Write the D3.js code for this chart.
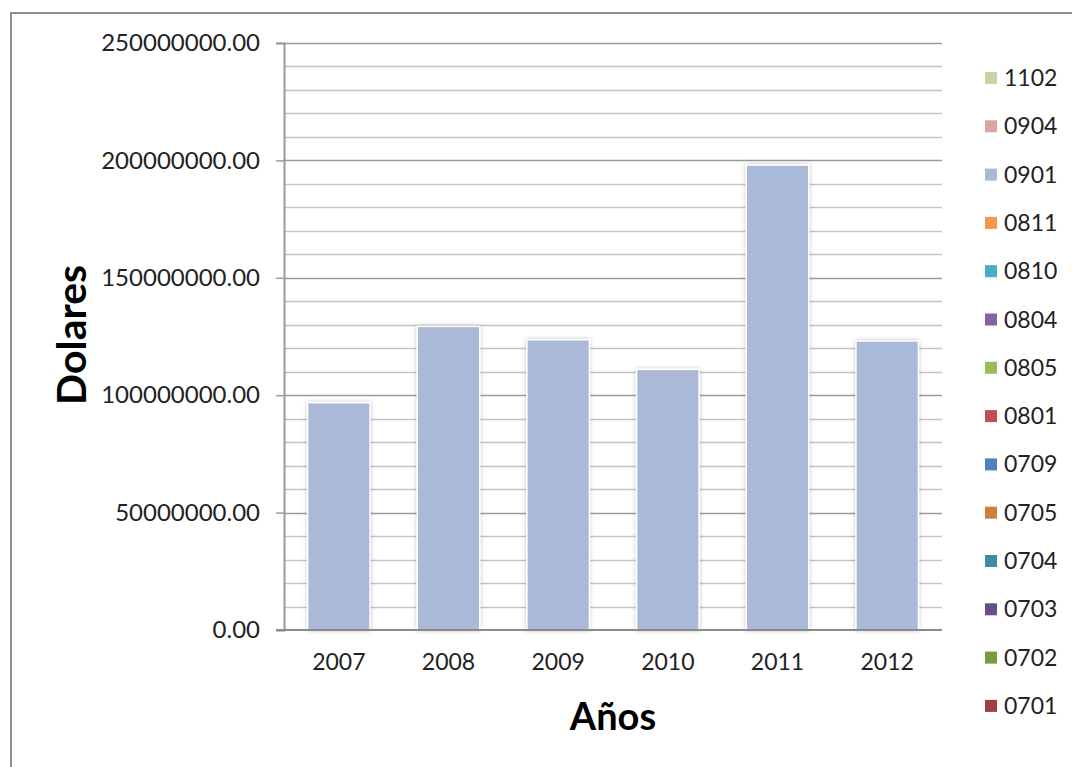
<!DOCTYPE html>
<html>
<head>
<meta charset="utf-8">
<script src="https://cdn.jsdelivr.net/npm/d3@7"></script>
<style>
  body { margin: 0; background: #fff; }
  svg { font-family: Lato, "Open Sans", sans-serif; }
</style>
</head>
<body>
<div id="chart"></div>
<script>
const width = 1072
const height = 767

// data
const years = ['2007', '2008', '2009', '2010', '2011', '2012']
const seriesNames = ['0701', '0702', '0703', '0704', '0705', '0709', '0801', '0805',
                     '0804', '0810', '0811', '0901', '0904', '1102']
const seriesColors = ['#A0403E', '#799A3E', '#684F8A', '#3A8FA3', '#D07E3C', '#4F81BD', '#C0504D',
                      '#9BBB59', '#8064A2', '#4BACC6', '#F79646', '#A9B9D7', '#DBA3A2', '#C4D6A8']
const values0901 = [96800000, 129300000, 123600000, 111000000, 198000000, 123100000]
const valuesOther = [0, 0, 0, 0, 0, 0]
const yTicks = [0, 50000000, 100000000, 150000000, 200000000, 250000000]

const rows = years.map((y, i) => {
    const r = {year: y}
    seriesNames.forEach(s => { r[s] = s === '0901' ? values0901[i] : valuesOther[i] })
    return r
})

const plot = {left: 284, right: 942, top: 43, bottom: 630}

const svg = d3.select('#chart').append('svg')
    .attr('width', width)
    .attr('height', height)

const defs = svg.append('defs')
const shadow = defs.append('filter').attr('id', 'shadow')
    .attr('x', '-20%').attr('y', '-5%').attr('width', '140%').attr('height', '110%')
shadow.append('feDropShadow')
    .attr('dx', 0).attr('dy', 0).attr('stdDeviation', 2)
    .attr('flood-color', '#000').attr('flood-opacity', 0.25)

// outer chart frame
svg.append('rect')
    .attr('x', 11).attr('y', 13)
    .attr('width', width + 20).attr('height', height + 20)
    .attr('fill', 'none')
    .attr('stroke', '#8e8e8e')
    .attr('stroke-width', 2)

const xScale = d3.scaleBand()
    .domain(years)
    .range([plot.left, plot.right])
    .paddingInner(0.43)
    .paddingOuter(0.215)

const yScale = d3.scaleLinear()
    .domain([0, 250000000])
    .range([plot.bottom, plot.top])

// minor gridlines every 10M
const minor = d3.range(0, 250000001, 10000000).filter(v => v % 50000000 !== 0)
svg.append('g').selectAll('line')
    .data(minor)
    .enter().append('line')
    .attr('x1', plot.left).attr('x2', plot.right)
    .attr('y1', d => Math.round(yScale(d)) + 0.5)
    .attr('y2', d => Math.round(yScale(d)) + 0.5)
    .attr('stroke', '#c4c4c4')
    .attr('stroke-width', 1.5)

// major gridlines
svg.append('g').selectAll('line')
    .data(yTicks.slice(1))
    .enter().append('line')
    .attr('x1', plot.left).attr('x2', plot.right)
    .attr('y1', d => Math.round(yScale(d)) + 0.5)
    .attr('y2', d => Math.round(yScale(d)) + 0.5)
    .attr('stroke', '#9a9a9a')
    .attr('stroke-width', 1.5)

// stacked bars
const stacked = d3.stack().keys(seriesNames)(rows)
const layers = svg.append('g').selectAll('g')
    .data(stacked)
    .enter().append('g')
    .attr('fill', (d, i) => seriesColors[i])

layers.selectAll('rect')
    .data(d => d.filter(p => p[1] - p[0] > 0))
    .enter().append('rect')
    .attr('x', d => xScale(d.data.year))
    .attr('y', d => yScale(d[1]))
    .attr('width', xScale.bandwidth())
    .attr('height', d => yScale(d[0]) - yScale(d[1]))
    .attr('stroke', '#fff')
    .attr('stroke-width', 1.5)
    .attr('filter', 'url(#shadow)')

// y axis
const yAxis = d3.axisLeft(yScale)
    .tickValues(yTicks)
    .tickFormat(d3.format('.2f'))
    .tickSize(8)
    .tickPadding(16)

const yg = svg.append('g')
    .attr('transform', `translate(${plot.left},0)`)
    .call(yAxis)
yg.select('.domain').attr('stroke', '#9a9a9a').attr('stroke-width', 2)
yg.selectAll('.tick line').attr('stroke', '#9a9a9a').attr('stroke-width', 1.5)
yg.selectAll('.tick text')
    .attr('font-size', 24)
    .attr('font-family', 'Lato, sans-serif')
    .attr('fill', '#222')

// x axis
const xAxis = d3.axisBottom(xScale).tickSize(0).tickPadding(24)
const xg = svg.append('g')
    .attr('transform', `translate(0,${plot.bottom})`)
    .call(xAxis)
xg.select('.domain').remove()
xg.append('line')
    .attr('x1', plot.left - 8).attr('x2', plot.right)
    .attr('y1', 0).attr('y2', 0)
    .attr('stroke', '#8a8a8a').attr('stroke-width', 2)
xg.selectAll('.tick text')
    .attr('font-size', 23)
    .attr('font-family', 'Lato, sans-serif')
    .attr('fill', '#222')

// axis titles
svg.append('text')
    .attr('transform', `translate(86,335) rotate(-90)`)
    .attr('text-anchor', 'middle')
    .attr('font-size', 41)
    .attr('font-weight', 'bold')
    .attr('fill', '#000')
    .text('Dolares')

svg.append('text')
    .attr('x', 613).attr('y', 730)
    .attr('text-anchor', 'middle')
    .attr('font-size', 38)
    .attr('font-weight', 'bold')
    .attr('fill', '#000')
    .text('Años')

// legend, top of stack first
const legendItems = seriesNames.map((s, i) => ({name: s, color: seriesColors[i]})).reverse()
const legend = svg.append('g')
    .selectAll('g')
    .data(legendItems)
    .enter().append('g')
    .attr('transform', (d, i) => `translate(985,${78 + i * 48.3})`)

legend.append('rect')
    .attr('x', 0).attr('y', -6)
    .attr('width', 12).attr('height', 12)
    .attr('fill', d => d.color)

legend.append('text')
    .attr('x', 19).attr('y', 0)
    .attr('dy', '0.35em')
    .attr('font-size', 23)
    .attr('fill', '#222')
    .text(d => d.name)
</script>
</body>
</html>
